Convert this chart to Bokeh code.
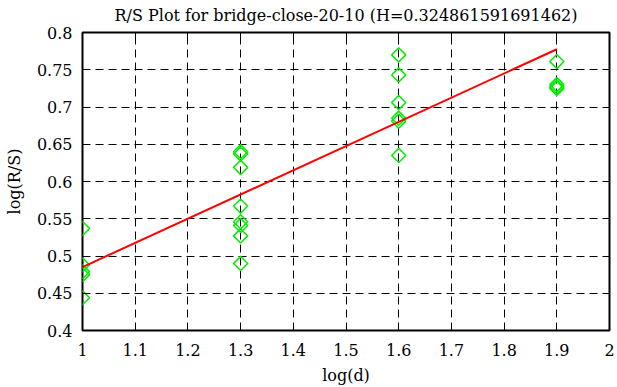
import numpy as np
from bokeh.plotting import figure
from bokeh.models import LinearAxis, FixedTicker, ColumnDataSource, Range1d
from bokeh.embed import file_html
from bokeh.resources import INLINE

# ---------------- data ----------------
title_text = "R/S Plot for bridge-close-20-10 (H=0.324861591691462)"
x_label = "log(d)"
y_label = "log(R/S)"

log_d = [1.0, 1.0, 1.0, 1.0, 1.0,
         1.3, 1.3, 1.3, 1.3, 1.3, 1.3, 1.3, 1.3,
         1.6, 1.6, 1.6, 1.6, 1.6, 1.6,
         1.9, 1.9, 1.9, 1.9]
log_rs = [0.537, 0.488, 0.479, 0.475, 0.444,
          0.640, 0.637, 0.619, 0.567, 0.546, 0.541, 0.527, 0.490,
          0.770, 0.743, 0.706, 0.685, 0.681, 0.635,
          0.761, 0.730, 0.727, 0.725]

hurst_H = 0.324861591691462
fit_intercept = 0.1603
fit_x = [1.0, 1.9]

x_ticks = [1.0, 1.1, 1.2, 1.3, 1.4, 1.5, 1.6, 1.7, 1.8, 1.9, 2.0]
x_tick_labels = ["1", "1.1", "1.2", "1.3", "1.4", "1.5", "1.6", "1.7", "1.8", "1.9", "2"]
y_ticks = [0.4, 0.45, 0.5, 0.55, 0.6, 0.65, 0.7, 0.75, 0.8]
y_tick_labels = ["0.4", "0.45", "0.5", "0.55", "0.6", "0.65", "0.7", "0.75", "0.8"]

# ---------------- styling ----------------
FONT = "DejaVu Serif"
FS = "16px"

p = figure(width=617, height=387, output_backend="svg", toolbar_location=None,
           x_range=Range1d(x_ticks[0], x_ticks[-1]),
           y_range=Range1d(y_ticks[0], y_ticks[-1]),
           min_border_left=82, min_border_right=8, min_border_top=32,
           min_border_bottom=56)

p.title.text = title_text
p.title.text_font = FONT
p.title.text_font_size = FS
p.title.text_font_style = "normal"
p.title.text_color = "black"
p.title.align = "center"
p.title.vertical_align = "top"
p.title.text_line_height = 0.9
p.title.standoff = 11
p.title.offset = 0

p.outline_line_color = "black"
p.outline_line_width = 2
p.outline_line_alpha = 1
p.background_fill_color = "white"
p.border_fill_color = "white"

for ax, ticks, labels in ((p.xaxis[0], x_ticks, x_tick_labels),
                          (p.yaxis[0], y_ticks, y_tick_labels)):
    ax.ticker = FixedTicker(ticks=ticks)
    ax.major_label_overrides = dict(zip(ticks, labels))
    ax.major_label_text_font = FONT
    ax.major_label_text_font_size = FS
    ax.major_label_text_color = "black"
    ax.axis_label_text_font = FONT
    ax.axis_label_text_font_size = FS
    ax.axis_label_text_font_style = "normal"
    ax.axis_label_text_color = "black"
    ax.axis_line_color = None
    ax.major_tick_in = 6
    ax.major_tick_out = 0
    ax.major_tick_line_color = "black"
    ax.major_tick_line_width = 1
    ax.minor_tick_line_color = None

p.xaxis.axis_label = x_label
p.yaxis.axis_label = y_label
p.xaxis.major_label_standoff = 13
p.xaxis.axis_label_standoff = 7
p.yaxis.major_label_standoff = 10
p.yaxis.axis_label_standoff = 10

for loc, ticks in (("right", y_ticks), ("above", x_ticks)):
    ax = LinearAxis(ticker=FixedTicker(ticks=ticks),
                    major_label_overrides={t: "" for t in ticks},
                    major_label_text_font_size="0px",
                    major_label_standoff=0,
                    major_tick_in=6, major_tick_out=0,
                    major_tick_line_color="black",
                    minor_tick_line_color=None,
                    axis_line_color=None)
    p.add_layout(ax, loc)

for g, ticks in ((p.xgrid[0], x_ticks), (p.ygrid[0], y_ticks)):
    g.ticker = FixedTicker(ticks=ticks)
    g.grid_line_color = "black"
    g.grid_line_alpha = 1
    g.grid_line_width = 1
    g.grid_line_dash = "8 5"

# points
src = ColumnDataSource(data=dict(x=log_d, y=log_rs))
p.scatter("x", "y", source=src, marker="square", angle=np.pi / 4, size=10,
          fill_color=None, line_color="#00ee00", line_width=1.5)

# fitted line (slope = Hurst exponent)
fit_y = [fit_intercept + hurst_H * xv for xv in fit_x]
p.line(fit_x, fit_y, line_color="#ff0000", line_width=2)

open("out.html", "w").write(file_html(p, INLINE))
